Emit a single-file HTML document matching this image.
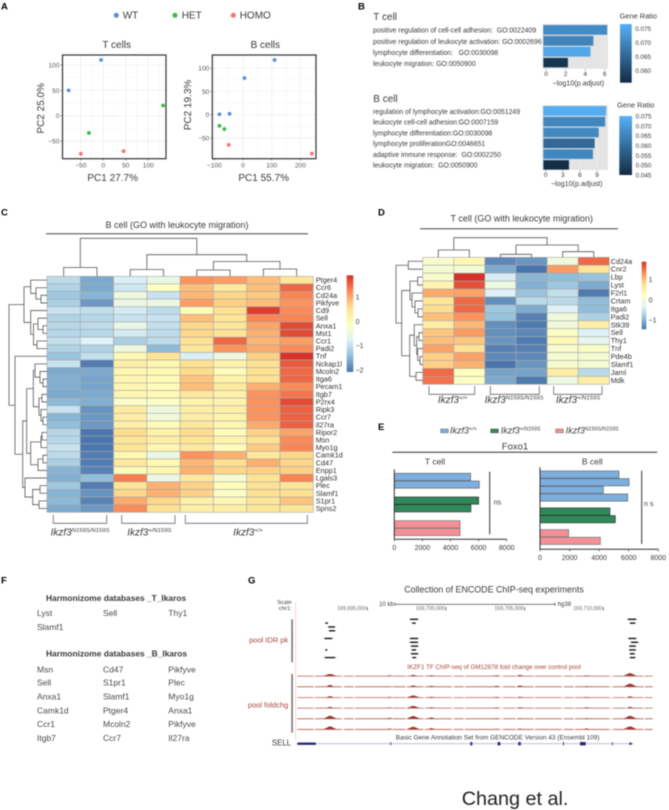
<!DOCTYPE html>
<html lang="en">
<head>
<meta charset="utf-8">
<title>Chang et al. multi-panel figure</title>
<style>
html,body{margin:0;padding:0;background:#fff;}
svg{display:block;font-family:"Liberation Sans",sans-serif;filter:blur(0.4px);}
text{fill:#3a3a3a;}
.letter{font-weight:bold;font-size:9.5px;fill:#000;}
.term{font-size:6.9px;fill:#333;}
.gene{font-size:8.5px;fill:#4a4a4a;}
.red{fill:#a8453c;}
</style>
</head>
<body>
<svg id="figure" width="669" height="810" viewBox="0 0 669 810" xmlns="http://www.w3.org/2000/svg">
<rect x="0" y="0" width="669" height="810" fill="#fff"/>

<text class="letter" x="1" y="9.5">A</text>
<text class="letter" x="358" y="9.5">B</text>
<text class="letter" x="1" y="215.7">C</text>
<text class="letter" x="378" y="215.7">D</text>
<text class="letter" x="378" y="430">E</text>
<text class="letter" x="1" y="583.3">F</text>
<text class="letter" x="248" y="583.3">G</text>

<!-- Panel A static text -->
<circle cx="116.3" cy="15.3" r="2.5" fill="#5b8fd9"/>
<text x="122.7" y="18.3" font-size="10">WT</text>
<circle cx="175" cy="15.3" r="2.5" fill="#3bb94a"/>
<text x="181.7" y="18.3" font-size="10">HET</text>
<circle cx="233.3" cy="15.3" r="2.5" fill="#f87268"/>
<text x="239.7" y="18.3" font-size="10">HOMO</text>
<text x="116.7" y="48" font-size="10" text-anchor="middle">T cells</text>
<text x="265.3" y="48" font-size="10" text-anchor="middle">B cells</text>
<text x="112.7" y="181" font-size="10" text-anchor="middle">PC1 27.7%</text>
<text x="263.7" y="181" font-size="10" text-anchor="middle">PC1 55.7%</text>
<text transform="translate(44,108.3) rotate(-90)" font-size="10" text-anchor="middle">PC2 25.0%</text>
<text transform="translate(191,105) rotate(-90)" font-size="10" text-anchor="middle">PC2 19.3%</text>

<!-- Panel B static text -->
<text x="373.3" y="20" font-size="10">T cell</text>
<text x="373.3" y="102" font-size="10">B cell</text>
<text x="578.3" y="85.3" font-size="7.2" text-anchor="middle">−log10(p.adjust)</text>
<text x="576.7" y="186" font-size="7.2" text-anchor="middle">−log10(p.adjust)</text>
<text x="638.3" y="18.7" font-size="7.4" text-anchor="middle">Gene Ratio</text>
<text x="635.7" y="107.7" font-size="7.4" text-anchor="middle">Gene Ratio</text>

<!-- Panel C static -->
<text x="177" y="228" font-size="9" text-anchor="middle">B cell (GO with leukocyte migration)</text>
<line x1="46" y1="233.7" x2="308" y2="233.7" stroke="#444" stroke-width="1"/>
<text x="80" y="535.7" font-size="10" font-style="italic" text-anchor="middle">Ikzf3<tspan font-size="5.9" dy="-3.5">N159S/N159S</tspan></text>
<text x="149.3" y="535.7" font-size="10" font-style="italic" text-anchor="middle">Ikzf3<tspan font-size="5.9" dy="-3.5">+/N159S</tspan></text>
<text x="248" y="535.7" font-size="10" font-style="italic" text-anchor="middle">Ikzf3<tspan font-size="5.9" dy="-3.5">+/+</tspan></text>
<path d="M53.3 515V523.3H106.7V515M121.7 515V523.3H175V515M185.3 515V523.3H307.3V515" fill="none" stroke="#666" stroke-width=".8"/>

<!-- Panel D static -->
<text x="521.7" y="221.7" font-size="9" text-anchor="middle">T cell (GO with leukocyte migration)</text>
<line x1="420" y1="228.7" x2="618" y2="228.7" stroke="#444" stroke-width="1"/>
<text x="452.7" y="403" font-size="10" font-style="italic" text-anchor="middle">Ikzf3<tspan font-size="5.9" dy="-3.5">+/+</tspan></text>
<text x="514" y="403" font-size="10" font-style="italic" text-anchor="middle">Ikzf3<tspan font-size="5.9" dy="-3.5">N159S/N159S</tspan></text>
<text x="578" y="403" font-size="10" font-style="italic" text-anchor="middle">Ikzf3<tspan font-size="5.9" dy="-3.5">+/N159S</tspan></text>
<path d="M429 386V394.3H474.7V386M490.3 386V394.3H539.3V386M553.7 386V394.3H602V386" fill="none" stroke="#666" stroke-width=".8"/>

<!-- Panel E static -->
<rect x="440.7" y="429" width="7.6" height="3.8" fill="#7caee0" stroke="#666" stroke-width=".5"/>
<text x="450" y="433.5" font-size="9" font-style="italic">Ikzf3<tspan font-size="5.3" dy="-3">+/+</tspan></text>
<rect x="490.7" y="429" width="7.6" height="3.8" fill="#2f8a5a" stroke="#444" stroke-width=".5"/>
<text x="500.7" y="433.5" font-size="9" font-style="italic">Ikzf3<tspan font-size="5.3" dy="-3">+/N159S</tspan></text>
<rect x="555.7" y="429" width="7.6" height="3.8" fill="#f58f96" stroke="#666" stroke-width=".5"/>
<text x="565.7" y="433.5" font-size="9" font-style="italic">Ikzf3<tspan font-size="5.3" dy="-3">N159S/N159S</tspan></text>
<text x="515" y="449.3" font-size="9.5" text-anchor="middle">Foxo1</text>
<line x1="392.3" y1="452.3" x2="657.3" y2="452.3" stroke="#333" stroke-width="1"/>
<text x="435" y="464.3" font-size="8.5" text-anchor="middle">T cell</text>
<text x="592.3" y="464.3" font-size="8.5" text-anchor="middle">B cell</text>
<line x1="489.7" y1="471.7" x2="489.7" y2="534.3" stroke="#333" stroke-width="1"/>
<text x="493.7" y="504.3" font-size="7">ns</text>
<line x1="641.7" y1="470.7" x2="641.7" y2="544" stroke="#333" stroke-width="1"/>
<text x="644" y="506" font-size="7">n s</text>

<!-- Panel F -->
<g>
<text x="46" y="601" font-size="8.4" font-weight="bold">Harmonizome databases _T_Ikaros</text>
<text class="gene" x="37" y="616">Lyst</text>
<text class="gene" x="103" y="616">Sell</text>
<text class="gene" x="168.3" y="616">Thy1</text>
<text class="gene" x="37" y="630">Slamf1</text>
<text x="46" y="656.7" font-size="8.4" font-weight="bold">Harmonizome databases _B_Ikaros</text>
<text class="gene" x="37" y="672.3">Msn</text>
<text class="gene" x="103" y="672.3">Cd47</text>
<text class="gene" x="168.3" y="672.3">Pikfyve</text>
<text class="gene" x="37" y="685.5">Sell</text>
<text class="gene" x="103" y="685.5">S1pr1</text>
<text class="gene" x="168.3" y="685.5">Plec</text>
<text class="gene" x="37" y="699.3">Anxa1</text>
<text class="gene" x="103" y="699.3">Slamf1</text>
<text class="gene" x="168.3" y="699.3">Myo1g</text>
<text class="gene" x="37" y="713.3">Camk1d</text>
<text class="gene" x="103" y="713.3">Ptger4</text>
<text class="gene" x="168.3" y="713.3">Anxa1</text>
<text class="gene" x="37" y="727">Ccr1</text>
<text class="gene" x="103" y="727">Mcoln2</text>
<text class="gene" x="168.3" y="727">Pikfyve</text>
<text class="gene" x="37" y="741">Itgb7</text>
<text class="gene" x="103" y="741">Ccr7</text>
<text class="gene" x="168.3" y="741">Il27ra</text>
</g>

<!-- Panel G static -->
<text x="494" y="592.3" font-size="8.9" text-anchor="middle">Collection of ENCODE ChIP-seq experiments</text>
<text x="291.7" y="604" font-size="5.8" text-anchor="end">Scale</text>
<text x="291.7" y="610" font-size="5.8" text-anchor="end">chr1:</text>
<line x1="295.7" y1="601.7" x2="295.7" y2="740" stroke="#f2c4bc" stroke-width=".7"/>
<text x="379" y="606" font-size="6">10 kb</text>
<path d="M395 602.8V605.8M395 604.3H555M555 602.8V605.8" stroke="#333" stroke-width=".7" fill="none"/>
<text x="557.7" y="606" font-size="6">hg38</text>
<text x="288.3" y="642.7" font-size="7.5" text-anchor="end" class="red">pool IDR pk</text>
<rect x="291.3" y="619.3" width="1.6" height="43" fill="#777"/>
<text x="407.3" y="669" font-size="6.3" class="red">IKZF1 TF ChIP-seq of GM12878 fold change over control pool</text>
<rect x="291.3" y="674" width="1.6" height="58.7" fill="#777"/>
<text x="288.3" y="707.3" font-size="7.5" text-anchor="end" class="red">pool foldchg</text>
<text x="497.7" y="739.3" font-size="6.5" text-anchor="middle">Basic Gene Annotation Set from GENCODE Version 43 (Ensembl 109)</text>
<text x="291" y="745.5" font-size="7.8" text-anchor="end">SELL</text>
<text x="461.7" y="805" font-size="19.8" style="fill:#222">Chang et al.</text>
</svg>

<script>
/* ---------- data: panel A ---------- */
const tCellGroups = ['WT','WT','HET','HET','HOMO','HOMO'];
const tCellPc1 = [-5,-77,133,-32,-50,45];
const tCellPc2 = [110,50,20,-34,-75,-70];
const tCellXTicks = [-50,0,50,100];
const tCellYTicks = [-50,0,50,100];
const bCellGroups = ['WT','WT','WT','WT','HET','HET','HOMO','HOMO'];
const bCellPc1 = [110,5,-82,-47,-82,-65,-50,240];
const bCellPc2 = [118,79,1,2,-24,-31,-65,-84];
const bCellXTicks = [-100,0,100,200];
const bCellYTicks = [-50,0,50,100];

/* ---------- data: panel B ---------- */
const goTTerms = ['positive regulation of cell-cell adhesion:  GO:0022409','positive regulation of leukocyte activation: GO:0002696','lymphocyte differentiation:   GO:0030098','leukocyte migration: GO:0050900'];
const goTValues = [6.25,4.85,4.55,2.25];
const goTRatios = [0.0715,0.0705,0.076,0.058];
const goTTicks = [0,2,4,6];
const goTLegendTicks = [0.075,0.070,0.065,0.060];
const goBTerms = ['regulation of lymphocyte activation:GO:0051249','leukocyte cell-cell adhesion:GO:0007159','lymphocyte differentiation:GO:0030098','lymphocyte proliferationGO:0046651','adaptive immune response:  GO:0002250','leukocyte migration:  GO:0050900'];
const goBValues = [10.6,10.45,9.3,8.6,8.3,4.1];
const goBRatios = [0.0745,0.066,0.0665,0.059,0.066,0.046];
const goBTicks = [0,3,6,9];
const goBLegendTicks = [0.075,0.070,0.065,0.060,0.055,0.050,0.045];

/* ---------- data: panel C heatmap ---------- */
const cGenes = ['Ptger4','Ccr6','Cd24a','Pikfyve','Cd9','Sell','Anxa1','Mst1','Ccr1','Padi2','Tnf','Nckap1l','Mcoln2','Itga6','Pecam1','Itgb7','P2rx4','Ripk3','Ccr7','Il27ra','Ripor2','Msn','Myo1g','Camk1d','Cd47','Enpp1','Lgals3','Plec','Slamf1','S1pr1','Spns2'];
const cValues = [
[-1.05,-1.6,-.8,-.55,1.2,1.1,.85,.45],
[-1.15,-1.6,-.9,-.12,.85,.35,.85,1.5],
[-1.3,-1.5,-.45,-.95,.9,.65,.75,1.3],
[-1.2,-1.75,-.5,-.5,1.1,.7,.85,1.2],
[-.95,-1,-.85,-1.05,0,.55,1.8,1.25],
[-1.15,-1.1,-.95,-.95,.85,.45,1.3,1.3],
[-1.1,-1.05,-.55,-1,.65,.45,1.05,1.7],
[-1.1,-1.1,-.85,-1.05,.65,.5,.95,1.7],
[-1,-.75,-1.2,-1.05,.55,1.5,.9,1.1],
[-1.15,-1.15,-.45,-1.45,.45,1.2,1,1.25],
[-1.35,-1,.05,.5,-.8,-.45,.7,1.88],
[-.95,-2,.25,.1,.55,.2,.55,1.6],
[-1.6,-1.6,.1,.05,.6,-.02,.55,1.5],
[-1.55,-1.65,.1,0,.8,.2,.55,1.5],
[-1.55,-1.65,.1,0,.85,.35,.95,1.25],
[-1.6,-1.6,.1,.05,.4,.2,1.2,1.4],
[-1.45,-1.55,-.2,-.15,.2,.15,1.2,1.7],
[-.95,-1.8,.35,-.45,.3,.25,1.2,1.55],
[-1.5,-1.75,.3,-.4,.3,.2,1.2,1.55],
[-1.4,-1.75,.25,0,.4,.1,1,1.55],
[-1.1,-2.05,.6,.2,.6,0,.7,1.05],
[-1.1,-2.05,.45,.25,.5,.15,.55,1.25],
[-.95,-2.05,.5,.1,.4,0,.75,1.3],
[-1.05,-2,.1,-.5,1.2,.95,.4,.65],
[-1.2,-2,.4,.05,.9,.55,.95,.65],
[-1.5,-1.95,0,.1,.95,.65,.7,.7],
[-1.55,-1.4,1.35,-.5,.4,-.3,.5,1.3],
[-1.3,-2,.5,.95,.7,0,.55,.45],
[-1.5,-1.8,.65,.95,.7,-.15,.55,.55],
[-1.45,-1.95,1,.65,.25,.1,.45,.8],
[-1.6,-1.75,1.25,.55,.25,.25,.45,.45]
];
const cKeyTicks = [1,0,-1,-2];
/* dendrograms: [merge distance, child, child]; a number is a leaf index */
const cRowTree = [38,
  [23,[16.3,0,[11,1,[6,2,3]]],[16.3,4,[13.5,[9,5,[4,6,7]],[10,8,9]]]],
  [32,10,[24.3,
    [20.3,[13.7,[12,11,[7,12,[4,13,14]]],[8,[5,15,16],[6,17,[4,18,19]]]],[16.3,[6,[5,20,21],22],[9,[4,23,24],25]]],
    [22,26,[14.3,[7,27,28],[8,29,30]]]]]];
const cColTree = [38,[8.8,0,1],[21.6,[6.8,2,3],[14.8,[6.3,4,5],[7.3,6,7]]]];

/* ---------- data: panel D heatmap ---------- */
const dGenes = ['Cd24a','Cnr2','Lbp','Lyst','F2rl1','Crtam','Itga6','Padi2','Stk39','Sell','Thy1','Tnf','Pde4b','Slamf1','Jaml','Mdk'];
const dValues = [
[.1,.35,-1.3,-1.2,-.05,1.55],
[.05,0,-1.05,-1.45,1.25,.7],
[.1,1.9,-.4,-.95,-.9,-.85],
[.4,1.7,-.1,-1,-.8,-1.05],
[1.15,1.2,-.35,-.85,-.55,-1.4],
[.7,1.55,-1.25,-.6,-.6,-.9],
[.8,1.55,-.8,-1.05,-.35,-.9],
[1,1.3,-.85,-1.35,-.05,-.7],
[.55,1.05,-1.25,-1.4,-.05,.55],
[.95,1.25,-1.25,-1.3,.15,-.35],
[1,.95,-1.2,-1.4,.35,-.25],
[1.2,.75,-1.35,-1.35,.1,.15],
[.9,1.2,-1.3,-1.3,.05,.05],
[.9,1.1,-1.45,-1.2,.1,.05],
[1.55,.25,-1.1,-1.1,.55,-.6],
[1.5,.2,-1.05,-1.4,-.1,.55]
];
const dKeyTicks = [1,0,-1];
const dRowTree = [26.7,[14.4,0,1],[21,
  [12.7,[5,2,3],[10.7,4,[7.7,5,[4.7,6,7]]]],
  [13,[8.5,8,[6,[3.7,9,10],[5,11,[2.7,12,13]]]],[6.7,14,15]]]];
const dColTree = [19.6,[7.3,0,1],[12.3,[3,2,3],[5.6,4,5]]];

/* ---------- data: panel E ---------- */
const foxoTValues = [5430,6050,6000,5450,4680,4680];
const foxoTGroups = [0,0,1,1,2,2];
const foxoBValues = [5340,6020,4280,5930,4730,5090,1940,4080];
const foxoBGroups = [0,0,0,0,1,1,2,2];
const foxoTicks = [0,2000,4000,6000,8000];

/* ---------- data: panel G (positions in kb from chr1:169,695,000) ---------- */
const browserTicks = ['169,695,000','169,700,000','169,705,000','169,710,000'];
const browserTickKb = [0,5,10,15];
const peakStarts = [-2.69,-2.54,-2.48,-2.79,-2.69,-2.79, 2.65,2.82,2.65,2.65,2.72,2.78,2.72,2.82, 16.49,16.65,16.53,16.7,16.6,16.6,16.65,16.65];
const peakEnds =   [-2.48,-2,-2,-2.16,-2.52,-1.95, 3.29,3.1,3.29,3.29,3.29,3.14,3.29,3.14, 17.16,17.08,17.16,17.27,17.12,17.12,17.04,17.08];
const peakRows =   [1,2,3,5,8,10, 0,1,5,6,7,8,9,10, 0,1,5,6,7,8,9,10];
const signalKb = [-2.37,1.44,2.92,4.08,8.22,9.7,13.94,16.7];
const signalTrack1 = [2.1,.7,1.3,.8,.7,1.1,.5,3];
const signalTrack2 = [1.9,.5,1.3,.8,1,1.2,.6,3.2];
const signalTrack3 = [1.5,.6,2.1,.7,.5,.7,.5,1.3];
const signalTrack4 = [1.3,.6,2.1,.7,.5,.7,.7,1.3];
const signalTrack5 = [3.1,.9,2.8,1.3,.5,.5,.6,3];
const signalTrack6 = [3.1,.9,2.7,1.3,.6,.7,.9,3];
const exonStarts = [-4.45,1.47,6.55,8.28,9.6,12.44,13.52,15.55];
const exonEnds = [-3.27,1.5,6.68,8.46,9.76,12.5,13.88,15.6];

/* ---------- helpers ---------- */
const NS = 'http://www.w3.org/2000/svg';
const root = document.getElementById('figure');
function mk(tag, attrs, name, parent) {
  const el = document.createElementNS(NS, tag);
  for (const k in attrs) el.setAttribute(k, attrs[k]);
  
  
  (parent || root).appendChild(el);
  return el;
}
function ln(x1, y1, x2, y2, stroke, w, name, parent) {
  return mk('line', {x1, y1, x2, y2, stroke, 'stroke-width': w}, name, parent);
}
function label(x, y, s, size, anchor, name, parent) {
  const t = mk('text', {x, y, 'font-size': size, 'text-anchor': anchor || 'start'}, name, parent);
  t.textContent = s;
  return t;
}
function linear(d0, d1, r0, r1) { return v => r0 + (v - d0) * (r1 - r0) / (d1 - d0); }
function minus(v) { return String(v).replace('-', '\u2212'); }

/* ---------- panel A ---------- */
const groupColors = {WT:'#5b8fd9', HET:'#3bb94a', HOMO:'#f87268'};
function scatter(cfg) {
  const g = mk('g', {}, cfg.name, root);
  const x = cfg.x, y = cfg.y, b = cfg.box;
  cfg.xTicks.forEach((t, i) => {
    ln(x(t), b[1], x(t), b[3], '#eaeaea', .6, 'x-gridline', g);
    const mid = t + (cfg.xTicks[1] - cfg.xTicks[0]) / 2;
    if (x(mid) < b[2]) ln(x(mid), b[1], x(mid), b[3], '#f4f4f4', .4, 'x-minor-gridline', g);
  });
  cfg.yTicks.forEach(t => {
    ln(b[0], y(t), b[2], y(t), '#eaeaea', .6, 'y-gridline', g);
    const mid = t + (cfg.yTicks[1] - cfg.yTicks[0]) / 2;
    if (y(mid) > b[1]) ln(b[0], y(mid), b[2], y(mid), '#f4f4f4', .4, 'y-minor-gridline', g);
  });
  cfg.pc1.forEach((v, i) => {
    mk('circle', {cx: x(v), cy: y(cfg.pc2[i]), r: 1.9, fill: groupColors[cfg.groups[i]]}, 'point-' + cfg.groups[i].toLowerCase(), g);
  });
  mk('rect', {x: b[0], y: b[1], width: b[2] - b[0], height: b[3] - b[1], fill: 'none', stroke: '#333', 'stroke-width': 1.2}, 'panel-border', g);
  cfg.xTicks.forEach(t => {
    ln(x(t), b[3], x(t), b[3] + 1.8, '#444', .6, 'x-tick', g);
    label(x(t), b[3] + 8.6, minus(t), 6.6, 'middle', 'x-tick-label', g).setAttribute('style', 'fill:#555');
  });
  cfg.yTicks.forEach(t => {
    ln(b[0] - 1.8, y(t), b[0], y(t), '#444', .6, 'y-tick', g);
    label(b[0] - 3, y(t) + 2.4, minus(t), 6.6, 'end', 'y-tick-label', g).setAttribute('style', 'fill:#555');
  });
}
scatter({name:'t-cells-pca', box:[62.5,55,166,158.7], x:linear(0,100,103.3,148.3), y:linear(0,100,115.7,65),
  groups:tCellGroups, pc1:tCellPc1, pc2:tCellPc2, xTicks:tCellXTicks, yTicks:tCellYTicks});
scatter({name:'b-cells-pca', box:[212.3,55,316,158.7], x:linear(0,100,243,271.7), y:linear(0,100,114.7,68.3),
  groups:bCellGroups, pc1:bCellPc1, pc2:bCellPc2, xTicks:bCellXTicks, yTicks:bCellYTicks});

/* ---------- panel B ---------- */
function mixColor(a, b, t) {
  t = Math.max(0, Math.min(1, t));
  return 'rgb(' + a.map((c, i) => Math.round(c + (b[i] - c) * t)).join(',') + ')';
}
const lowBlue = [19,43,67], highBlue = [86,177,247];
let gradientCount = 0;
function goBars(cfg) {
  const g = mk('g', {}, cfg.name, root);
  const b = cfg.box, x = cfg.x;
  mk('rect', {x: b[0], y: b[1], width: b[2] - b[0], height: b[3] - b[1], fill: '#e4e4e4'}, 'panel-background', g);
  cfg.ticks.forEach(t => {
    ln(x(t), b[1], x(t), b[3], '#f2f2f2', .5, 'gridline', g);
    ln(x(t), b[3], x(t), b[3] + 1.5, '#555', .5, 'x-tick', g);
    label(x(t), b[3] + 7.2, String(t), 6.5, 'middle', 'x-tick-label', g);
  });
  const ratio = linear(cfg.rMin, cfg.rMax, 0, 1);
  cfg.values.forEach((v, i) => {
    const top = cfg.y0 + i * cfg.step;
    mk('rect', {x: b[0] + 1, y: top, width: x(v) - b[0] - 1, height: cfg.h, fill: mixColor(lowBlue, highBlue, ratio(cfg.ratios[i])), stroke: '#a9c4d8', 'stroke-width': .4}, 'go-bar', g);
  });
  cfg.terms.forEach((s, i) => {
    const t = label(373, cfg.termY0 + i * cfg.termStep, s, 6.9, 'start', 'go-term-label', g);
    t.setAttribute('style', 'white-space:pre;fill:#3a3a3a');
  });
  const id = 'grad' + (++gradientCount);
  const lg = mk('linearGradient', {id, x1: 0, y1: 1, x2: 0, y2: 0}, 'legend-gradient', g);
  mk('stop', {offset: '0', 'stop-color': '#132B43'}, 'gradient-low', lg);
  mk('stop', {offset: '1', 'stop-color': '#56B1F7'}, 'gradient-high', lg);
  const k = cfg.key;
  mk('rect', {x: k[0], y: k[1], width: k[2] - k[0], height: k[3] - k[1], fill: 'url(#' + id + ')'}, 'gene-ratio-colorbar', g);
  cfg.legendTicks.forEach(t => {
    label(k[2] + 3.6, cfg.keyY(t) + 2.2, t.toFixed(3), 6.3, 'start', 'colorbar-label', g);
  });
}
goBars({name:'go-t-cell-bars', box:[542.3,24,608,68.7], x:linear(0,6,546,604.7), ticks:goTTicks, values:goTValues, ratios:goTRatios,
  terms:goTTerms, y0:25, step:10.9, h:9.8, rMin:0.0565, rMax:0.0775, termY0:32.7, termStep:11.1,
  key:[620,24,631.7,82.7], keyY:linear(0.075,0.060,28.7,70.7), legendTicks:goTLegendTicks});
goBars({name:'go-b-cell-bars', box:[542.3,105.3,608,170], x:linear(0,9,545.7,597), ticks:goBTicks, values:goBValues, ratios:goBRatios,
  terms:goBTerms, y0:106, step:10.8, h:9.8, rMin:0.045, rMax:0.0755, termY0:114, termStep:10.7,
  key:[619.3,116,632,175], keyY:linear(0.075,0.045,116.3,175.3), legendTicks:goBLegendTicks});

/* ---------- heatmaps ---------- */
const rampStops = [[74,116,173],[145,191,219],[224,243,248],[255,255,191],[254,224,144],[252,141,89],[215,48,39]];
function ramp(t) {
  t = Math.max(0, Math.min(0.9999, t)) * (rampStops.length - 1);
  const i = Math.floor(t);
  return mixColor(rampStops[i], rampStops[i + 1], t - i);
}
function dendrogram(tree, leafPos, toPx, vertical, g, color) {
  function walk(n) {
    if (typeof n === 'number') return {p: leafPos(n), h: toPx(0)};
    const a = walk(n[1]), b = walk(n[2]), h = toPx(n[0]);
    const d = vertical
      ? 'M' + a.p + ' ' + a.h + 'V' + h + 'H' + b.p + 'V' + b.h
      : 'M' + a.h + ' ' + a.p + 'H' + h + 'V' + b.p + 'H' + b.h;
    mk('path', {d, fill: 'none', stroke: color, 'stroke-width': .8}, 'dendrogram-branch', g);
    return {p: (a.p + b.p) / 2, h};
  }
  walk(tree);
}
function heatmap(cfg) {
  const g = mk('g', {}, cfg.name, root);
  const b = cfg.box, rows = cfg.values.length, cols = cfg.values[0].length;
  const cw = (b[2] - b[0]) / cols, rh = (b[3] - b[1]) / rows;
  const colorT = linear(cfg.vMin, cfg.vMax, 0, 1);
  cfg.values.forEach((row, r) => {
    row.forEach((v, c) => {
      mk('rect', {x: b[0] + c * cw, y: b[1] + r * rh, width: cw, height: rh, fill: ramp(colorT(v)), stroke: '#a8a8a8', 'stroke-width': .6}, 'heat-cell', g);
    });
    label(cfg.labelX, b[1] + (r + .5) * rh + 2.5, cfg.genes[r], 7.3, 'start', 'row-label', g).setAttribute('style', 'fill:#333');
  });
  dendrogram(cfg.rowTree, i => b[1] + (i + .5) * rh, d => b[0] - d, false, g, '#555');
  dendrogram(cfg.colTree, i => b[0] + (i + .5) * cw, d => b[1] - d, true, g, '#555');
  const k = cfg.key, ky = linear(cfg.vMin, cfg.vMax, k[3], k[1]);
  const keyH = (k[3] - k[1]) / 60;
  for (let i = 0; i < 60; i++) {
    mk('rect', {x: k[0], y: k[3] - (i + 1) * keyH, width: k[2] - k[0], height: keyH + .3, fill: ramp((i + .5) / 60)}, 'colorkey-step', g);
  }
  cfg.keyTicks.forEach(t => {
    label(k[2] + 2.3, ky(t) + 2.4, minus(t), 7, 'start', 'colorkey-label', g);
  });
}
heatmap({name:'b-cell-heatmap', box:[47,276.3,313.3,512.3], values:cValues, genes:cGenes, vMin:-2.07, vMax:1.9,
  labelX:315.7, rowTree:cRowTree, colTree:cColTree, key:[346.7,275.3,353.3,371.7], keyTicks:cKeyTicks});
heatmap({name:'t-cell-heatmap', box:[422.7,257.3,609.3,384.3], values:dValues, genes:dGenes, vMin:-1.45, vMax:1.9,
  labelX:610.7, rowTree:dRowTree, colTree:dColTree, key:[641.7,261.7,646.3,329], keyTicks:dKeyTicks});

/* ---------- panel E ---------- */
const foxoFill = ['#7caee0','#2f8a5a','#f58f96'];
const foxoEdge = ['#666','#333','#777'];
function foxoBars(cfg) {
  const g = mk('g', {}, cfg.name, root);
  const x = cfg.x;
  cfg.values.forEach((v, i) => {
    const grp = cfg.groups[i];
    mk('rect', {x: x(0), y: cfg.y0 + i * cfg.step + grp * cfg.gap, width: x(v) - x(0), height: cfg.h, fill: foxoFill[grp], stroke: foxoEdge[grp], 'stroke-width': .7}, 'foxo1-bar', g);
  });
  ln(x(0), cfg.top, x(0), cfg.axisY, '#333', 1, 'y-axis', g);
  ln(x(0), cfg.axisY, x(8000), cfg.axisY, '#333', 1, 'x-axis', g);
  foxoTicks.forEach(t => {
    ln(x(t), cfg.axisY, x(t), cfg.axisY + 2, '#333', .7, 'x-tick', g);
    label(x(t), cfg.axisY + 10.5, String(t), 7, 'middle', 'x-tick-label', g);
  });
}
foxoBars({name:'foxo1-t-cell-bars', values:foxoTValues, groups:foxoTGroups, x:linear(0,8000,394.3,506.7), y0:473.3, step:7.7, gap:8.3, h:7.2, top:469.3, axisY:539.3});
foxoBars({name:'foxo1-b-cell-bars', values:foxoBValues, groups:foxoBGroups, x:linear(0,8000,540,658.3), y0:471, step:7.65, gap:6.35, h:7.2, top:467.3, axisY:549.3});

/* ---------- panel G ---------- */
const kbX = linear(0,5,367.3,445.96);
const browser = mk('g', {}, 'genome-browser', root);
browserTicks.forEach((s, i) => {
  const x = kbX(browserTickKb[i]);
  label(x - 1.2, 610, s, 5.2, 'end', 'coordinate-label', browser).setAttribute('style', 'fill:#666');
  ln(x, 607, x, 610.5, '#333', .7, 'coordinate-tick', browser);
});
peakStarts.forEach((s, i) => {
  const y = 619.3 + peakRows[i] * 3.83;
  const e = peakEnds[i], w = e - s;
  ln(kbX(s), y, kbX(e), y, '#888', .6, 'peak-whisker', browser);
  ln(kbX(s + w * .12), y, kbX(e - w * .12), y, '#222', 1.5, 'peak-core', browser);
});
const signalTracks = [signalTrack1, signalTrack2, signalTrack3, signalTrack4, signalTrack5, signalTrack6];
const trackBaselines = [676,686.7,697.5,708,718.7,729.3];
signalTracks.forEach((heights, t) => {
  const base = trackBaselines[t];
  ln(297.3, base + .4, 652.7, base + .4, '#f0c4bc', .8, 'signal-baseline', browser);
  ln(297.3, base, 652.7, base, '#a8453c', .55, 'signal-noise', browser).setAttribute('stroke-dasharray', '16 2 26 3 9 2 34 4 12 2');
  signalKb.forEach((kb, i) => {
    const h = heights[i], w = h > 2 ? .42 : .24;
    const d = 'M' + kbX(kb - w) + ' ' + base + 'Q' + kbX(kb - w * .3) + ' ' + (base - h * .8) + ' ' + kbX(kb) + ' ' + (base - h) +
              'Q' + kbX(kb + w * .35) + ' ' + (base - h * .8) + ' ' + kbX(kb + w) + ' ' + base + 'Z';
    mk('path', {d, fill: '#9c3a30'}, 'signal-peak', browser);
  });
});
const geneY = 743.7;
ln(kbX(-4.45), geneY, kbX(16.8), geneY, '#6a6aa8', .8, 'gene-intron', browser).setAttribute('stroke-dasharray', '1 1');
exonStarts.forEach((s, i) => {
  const hgt = i === 0 ? 2.4 : 3.4;
  mk('rect', {x: kbX(s), y: geneY - hgt / 2, width: Math.max(kbX(exonEnds[i]) - kbX(s), .7), height: hgt, fill: '#2d2d7a'}, 'gene-exon', browser);
});
mk('path', {d:'M' + kbX(16.66) + ' ' + (geneY - 1.6) + 'L' + kbX(16.9) + ' ' + geneY + 'L' + kbX(16.66) + ' ' + (geneY + 1.6) + 'Z', fill:'#2d2d7a'}, 'gene-strand-arrow', browser);
</script>
</body>
</html>
